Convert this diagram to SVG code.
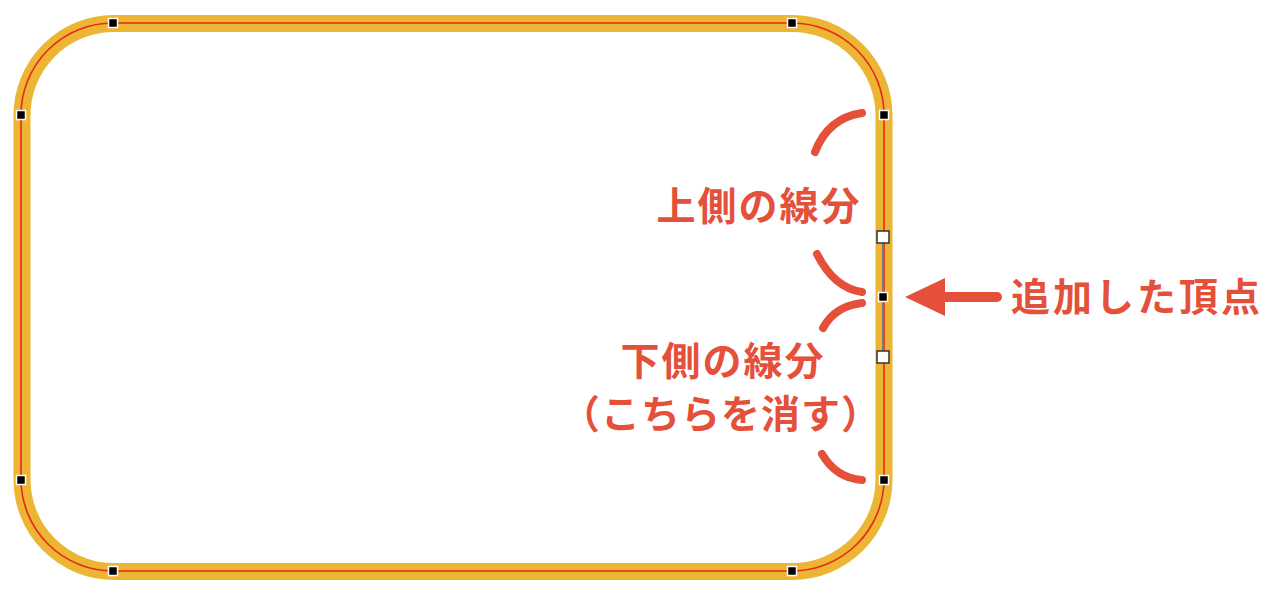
<svg xmlns="http://www.w3.org/2000/svg" width="1280" height="609" viewBox="0 0 1280 609">
<style>
.lbl{font-family:"Noto Sans CJK JP","Noto Sans CJK SC",sans-serif;font-weight:bold;font-size:39px;fill:#E4503A}
.brk{fill:none;stroke:#E4503A;stroke-width:8;stroke-linecap:round}
.h{fill:#000;stroke:#fff;stroke-width:1.5}
.w{fill:#fff;stroke:#333;stroke-width:1.5}
</style>
<rect width="1280" height="609" fill="#fff"/>
<g id="shape">
<rect x="22" y="23.5" width="862" height="548" rx="92" ry="92" fill="none" stroke="#EDB534" stroke-width="17"/>
<rect x="21" y="23" width="863" height="548" rx="92" ry="92" fill="none" stroke="#E8281A" stroke-width="1.6"/>
<line x1="883" y1="237" x2="883" y2="357" stroke="#777" stroke-width="2"/>
</g>
<g id="handles">
<rect class="h" x="108.5" y="18.5" width="9" height="9"/>
<rect class="h" x="787.5" y="18.5" width="9" height="9"/>
<rect class="h" x="16.5" y="110.5" width="9" height="9"/>
<rect class="h" x="879.5" y="110.5" width="9" height="9"/>
<rect class="h" x="16.5" y="475.5" width="9" height="9"/>
<rect class="h" x="879.5" y="475.5" width="9" height="9"/>
<rect class="h" x="108.5" y="566.5" width="9" height="9"/>
<rect class="h" x="787.5" y="566.5" width="9" height="9"/>
<rect class="h" x="878.5" y="292.5" width="9" height="9"/>
<rect class="w" x="877" y="231" width="12" height="12"/>
<rect class="w" x="877" y="351" width="12" height="12"/>
</g>
<g id="connectors">
<path class="brk" d="M862,113 Q828,118 815,152"/>
<path class="brk" d="M817,254 Q834,288 862,292"/>
<path class="brk" d="M862,303 Q835,306 823,328"/>
<path class="brk" d="M822,454 Q836,478 862,480"/>
<line x1="940" y1="297" x2="997" y2="297" stroke="#E4503A" stroke-width="10" stroke-linecap="round"/>
<polygon points="905,297 945,278 945,316" fill="#E4503A"/>
</g>
<g id="labels">
<text class="lbl" x="759" y="220" text-anchor="middle" letter-spacing="2">上側の線分</text>
<text class="lbl" x="723" y="375" text-anchor="middle" letter-spacing="2">下側の線分</text>
<text class="lbl" x="721" y="428" text-anchor="middle" font-size="37" letter-spacing="1">（こちらを消す）</text>
<text class="lbl" x="1137" y="311" text-anchor="middle" letter-spacing="3">追加した頂点</text>
</g>
</svg>
